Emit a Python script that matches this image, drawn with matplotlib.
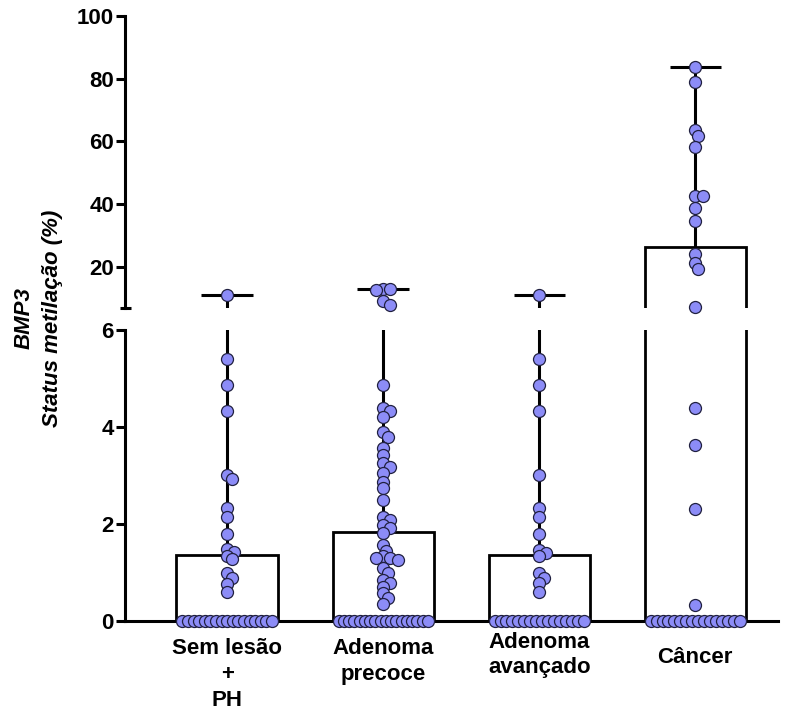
import matplotlib
matplotlib.use("Agg")
import matplotlib.pyplot as plt
import numpy as np

plt.rcParams['font.family'] = ['Liberation Sans', 'DejaVu Sans']

# ---------------- data ----------------
categories = ["Sem lesão\n+\nPH", "Adenoma\nprecoce", "Adenoma\navançado", "Câncer"]
means = [1.36, 1.84, 1.36, 26.5]

sem_lesao = [11.0, 5.41, 4.87, 4.34, 3.02, 2.92, 2.32, 2.15, 1.79, 1.48, 1.42,
             1.35, 1.27, 0.98, 0.88, 0.76, 0.59] + [0.0] * 17
adenoma_precoce = [13.0, 12.9, 12.5, 9.0, 7.9, 4.87, 4.39, 4.32, 4.21, 3.90, 3.80,
                   3.56, 3.42, 3.25, 3.18, 3.05, 2.87, 2.74, 2.49, 2.15, 2.08, 1.98,
                   1.92, 1.81, 1.57, 1.45, 1.33, 1.30, 1.29, 1.25, 1.09, 1.00, 0.85,
                   0.78, 0.70, 0.57, 0.47, 0.36] + [0.0] * 18
adenoma_avancado = [11.0, 5.41, 4.87, 4.34, 3.02, 2.32, 2.15, 1.79, 1.47, 1.40,
                    1.33, 0.98, 0.88, 0.79, 0.59] + [0.0] * 16
cancer = [83.8, 78.8, 63.6, 61.7, 58.3, 42.7, 42.7, 38.9, 34.7, 24.1, 21.2, 19.3,
          7.2, 4.39, 3.62, 2.30, 0.32] + [0.0] * 16
groups = [sem_lesao, adenoma_precoce, adenoma_avancado, cancer]

low_ticks = [0, 2, 4, 6]
up_ticks = [20, 40, 60, 80, 100]

# ---------------- style ----------------
W, H = 793, 715
fig = plt.figure(figsize=(W / 100, H / 100), dpi=100)
left_px, right_px = 125, 778
ax_low = fig.add_axes([left_px / W, 1 - 621 / H, (right_px - left_px) / W, (621 - 330) / H])
ax_up = fig.add_axes([left_px / W, 1 - 308 / H, (right_px - left_px) / W, (308 - 16) / H])

LW = 2.2
point_color = '#8c8cf7'
edge_color = '#202040'
diam_px = 12.0
msize = (diam_px / 1.389) ** 2
bar_w = 0.65
cap_w = 0.33
x = np.arange(len(categories))

for ax, lo, hi in [(ax_low, 0, 6), (ax_up, 6.9, 100)]:
    ax.set_xlim(-0.655, 3.53)
    ax.set_ylim(lo, hi)
    ax.spines['top'].set_visible(False)
    ax.spines['right'].set_visible(False)
    ax.spines['left'].set_linewidth(LW)
    ax.spines['bottom'].set_linewidth(LW)
    ax.tick_params(axis='y', direction='out', length=6.5, width=LW, pad=1.5,
                   labelsize=16)
    ax.patch.set_alpha(0)

ax_up.spines['bottom'].set_visible(False)
ax_up.set_xticks([])
ax_low.set_yticks(low_ticks)
ax_up.set_yticks(up_ticks)
ax_low.set_yticklabels([str(t) for t in low_ticks], fontweight='bold', fontsize=16)
ax_up.set_yticklabels([str(t) for t in up_ticks], fontweight='bold', fontsize=16)

ax_low.set_xticks(x)
ax_low.set_xticklabels([''] * len(x))
ax_low.tick_params(axis='x', direction='out', length=3, width=LW)

# break mark at bottom of upper segment
ax_up.plot([-0.008, 0.009], [0, 0], transform=ax_up.transAxes, color='black',
           lw=LW, clip_on=False, solid_capstyle='butt')

# bars, error bars (range to max)
for ax in (ax_low, ax_up):
    ax.bar(x, means, width=bar_w, color='white', edgecolor='black', linewidth=2.0, zorder=2)
    for xi, g, m in zip(x, groups, means):
        mx = max(g)
        ax.vlines(xi, m, mx, color='black', lw=LW, zorder=1)
        ax.hlines(mx, xi - cap_w / 2, xi + cap_w / 2, color='black', lw=LW, zorder=1)


def swarm_x(ax, xc, vals):
    tr = ax.transData
    ppu = tr.transform((1, 0))[0] - tr.transform((0, 0))[0]
    placed = []
    xs = []
    step = 0.2 * diam_px
    cands = [0.0]
    for j in range(1, 15):
        cands += [j * step, -j * step]
    for v in vals:
        py = tr.transform((0, v))[1]
        for off in cands:
            if all((off - px) ** 2 + (py - qy) ** 2 >= (0.5 * diam_px) ** 2 for px, qy in placed):
                break
        placed.append((off, py))
        xs.append(xc + off / ppu)
    return xs


r_data = (diam_px / 2) / (ax_low.transData.transform((1, 0))[0] - ax_low.transData.transform((0, 0))[0])
for xi, g in zip(x, groups):
    g = np.array(g)
    zeros = g[g == 0]
    low = g[(g > 0) & (g <= 6)]
    up = g[g > 6]
    zx = np.linspace(xi - bar_w / 2 + r_data, xi + bar_w / 2 - r_data, len(zeros))
    ax_low.scatter(zx, zeros, s=msize, color=point_color, edgecolor=edge_color,
                   linewidth=0.9, zorder=3, clip_on=False)
    if len(low):
        ax_low.scatter(swarm_x(ax_low, xi, low), low, s=msize, color=point_color,
                       edgecolor=edge_color, linewidth=0.9, zorder=3, clip_on=False)
    if len(up):
        ax_up.scatter(swarm_x(ax_up, xi, up), up, s=msize, color=point_color,
                      edgecolor=edge_color, linewidth=0.9, zorder=3, clip_on=False)

# category labels
label_offsets = [12.6, 12.6, 7.6, 19.0]
for xi, lab, off in zip(x, categories, label_offsets):
    ax_low.annotate(lab, xy=(xi, 0), xycoords=('data', 'axes fraction'),
                    xytext=(0, -off), textcoords='offset points', ha='center', va='top',
                    fontsize=16, fontweight='bold', linespacing=1.3)

# y label
fig.text(24 / W, 1 - 318 / H, 'BMP3', rotation=90, ha='center', va='center',
         fontsize=16, fontweight='bold', fontstyle='italic')
fig.text(53 / W, 1 - 318 / H, 'Status metilação (%)', rotation=90, ha='center', va='center',
         fontsize=16, fontweight='bold', fontstyle='italic')

fig.savefig('out.png', dpi=100)
